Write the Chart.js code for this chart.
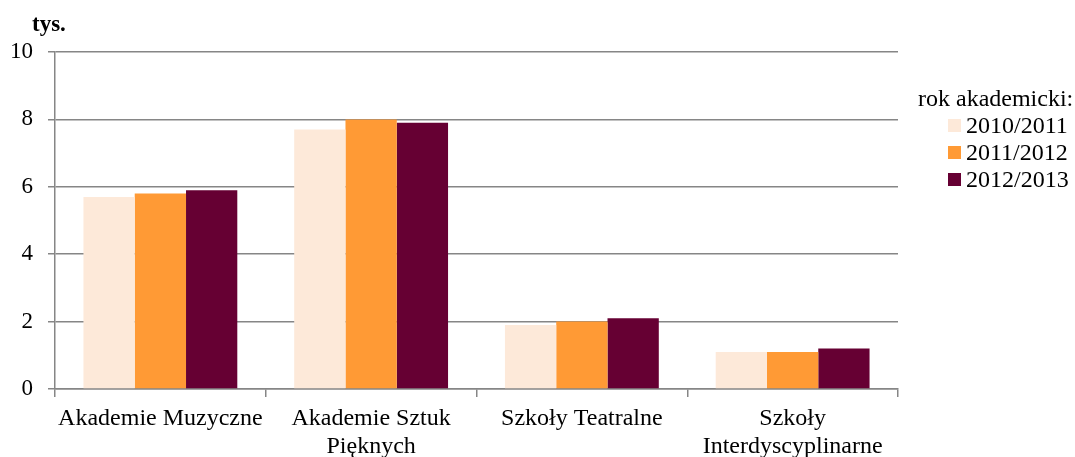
<!DOCTYPE html>
<html>
<head>
<meta charset="utf-8">
<script src="https://cdn.jsdelivr.net/npm/chart.js@4"></script>
<style>
    body { margin: 0; background: #fff; }
    #wrap { position: relative; width: 1075px; height: 457px; font-family: "Liberation Serif", "Times New Roman", serif; }
    #unit { position: absolute; left: 32px; top: 11px; font-size: 23px; font-weight: bold; color: #000; }
    #legend { position: absolute; left: 918px; top: 85px; font-size: 24px; color: #000; }
    #legend .title { height: 27px; line-height: 27px; }
    #legend .item { height: 27px; line-height: 27px; padding-left: 30px; position: relative; }
    #legend .box { position: absolute; left: 30px; top: 7px; width: 13px; height: 13px; }
    #legend .item span.txt { margin-left: 18px; }
</style>
</head>
<body>
<div id="wrap">
    <canvas id="chart" width="1075" height="457"></canvas>
    <div id="unit">tys.</div>
    <div id="legend"></div>
</div>
<script>
// Data
const categories = [
    "Akademie Muzyczne",
    ["Akademie Sztuk", "Pięknych"],
    "Szkoły Teatralne",
    ["Szkoły", "Interdyscyplinarne"]
];
const years = ["2010/2011", "2011/2012", "2012/2013"];
const values2010 = [5.7, 7.7, 1.9, 1.1];
const values2011 = [5.8, 8.0, 2.0, 1.1];
const values2012 = [5.9, 7.9, 2.1, 1.2];
const colors = ["#fde9d9", "#ff9a35", "#660033"];
const yTicks = [0, 2, 4, 6, 8, 10];

const fontStack = "'Liberation Serif', 'Times New Roman', serif";
const gridColor = "#868686";

const seriesValues = [values2010, values2011, values2012];
const datasets = years.map(function (y, i) {
    return {
        label: y,
        data: seriesValues[i],
        backgroundColor: colors[i],
        borderWidth: 0,
        categoryPercentage: 0.73,
        barPercentage: 1.0
    };
});

const ctx = document.getElementById("chart").getContext("2d");
new Chart(ctx, {
    type: "bar",
    data: { labels: categories, datasets: datasets },
    options: {
        responsive: false,
        devicePixelRatio: 1,
        animation: false,
        layout: { padding: { top: 52, right: 177, left: 0, bottom: 0 } },
        plugins: {
            legend: { display: false },
            tooltip: { enabled: false }
        },
        scales: {
            x: {
                offset: true,
                grid: {
                    drawOnChartArea: false,
                    offset: true,
                    color: gridColor,
                    lineWidth: 1.5,
                    tickLength: 8
                },
                border: { color: gridColor, width: 1.5 },
                ticks: {
                    color: "#000",
                    font: { family: fontStack, size: 24, lineHeight: 1.15 },
                    padding: 8,
                    maxRotation: 0,
                    autoSkip: false
                },
                afterFit: function (scale) { scale.height = 68; }
            },
            y: {
                min: 0,
                max: 10,
                afterBuildTicks: function (scale) {
                    scale.ticks = yTicks.map(function (v) { return { value: v }; });
                },
                grid: {
                    color: gridColor,
                    lineWidth: 1.5,
                    tickLength: 7
                },
                border: { color: gridColor, width: 1.5 },
                ticks: {
                    color: "#000",
                    font: { family: fontStack, size: 23 },
                    padding: 15
                },
                afterFit: function (scale) { scale.width = 55; }
            }
        }
    }
});

// legend built from the same arrays
const legend = document.getElementById("legend");
legend.innerHTML = '<div class="title">rok akademicki:</div>' +
    years.map(function (y, i) {
        return '<div class="item"><span class="box" style="background:' + colors[i] + '"></span><span class="txt">' + y + '</span></div>';
    }).join("");
</script>
</body>
</html>
